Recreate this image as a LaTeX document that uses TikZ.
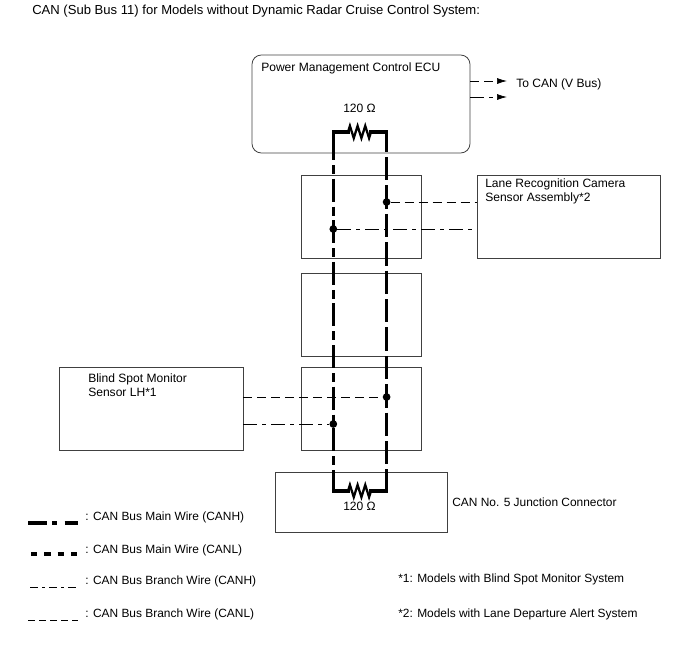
\documentclass[tikz,border=0pt]{standalone}
\usepackage{fontspec}
\setmainfont{Liberation Sans}
\usetikzlibrary{decorations.pathmorphing,arrows.meta}
\tikzset{
    x=0.75pt, y=-0.75pt,
    box/.style={draw=black!75, line width=0.6pt, inner sep=0pt, outer sep=0pt},
    lbl/.style={font=\fontsize{9.05pt}{10.5pt}\selectfont, inner sep=0pt, anchor=west, align=left},
    lblb/.style={lbl, font=\fontsize{8.95pt}{10.5pt}\selectfont},
    canh/.style={line width=2.3pt, dash pattern=on 17.25pt off 3.75pt on 6.75pt off 3.45pt},
    canl/.style={line width=2.3pt, dash pattern=on 17.6pt off 3.7pt, dash phase=2.55pt},
    branchh/.style={line width=0.55pt, dash pattern=on 10.5pt off 3.75pt on 3pt off 3.75pt},
    branchl/.style={line width=0.55pt, dash pattern=on 6.75pt off 3.75pt},
    legh/.style={line width=2.3pt, dash pattern=on 14.25pt off 3.75pt on 3.4pt off 6pt},
    legl/.style={line width=2.3pt, dash pattern=on 4.75pt off 5.25pt},
    legbh/.style={line width=0.55pt, dash pattern=on 6pt off 3pt on 2.25pt off 3pt},
    legbl/.style={line width=0.55pt, dash pattern=on 5.25pt off 3pt},
    res/.style={line width=1.7pt, decorate, decoration={zigzag, segment length=5.75pt, amplitude=4.6pt}},
    dot/.style={circle, fill=black, inner sep=0pt, minimum size=5.8pt},
}
\begin{document}
\begin{tikzpicture}
    \useasboundingbox (0,0) rectangle (688,658);

    \node[box, rounded corners=7pt, minimum width=163.5pt, minimum height=73.5pt] (pm) at (361,104) {};
    \node[box, minimum width=90pt, minimum height=62.25pt] (b1) at (361,216.5) {};
    \node[box, minimum width=90pt, minimum height=62.25pt] (b2) at (361,314.5) {};
    \node[box, minimum width=90pt, minimum height=62.25pt] (b3) at (361,409) {};
    \node[box, minimum width=129pt, minimum height=45pt] (jc) at (361,502) {};
    \node[box, minimum width=137.25pt, minimum height=62.25pt] (lane) at (568.5,216.5) {};
    \node[box, minimum width=138pt, minimum height=62.25pt] (blind) at (151,408.5) {};

    \node[lbl, font=\fontsize{9.8pt}{11pt}\selectfont] (title) at (32,11) {CAN (Sub Bus 11) for Models without Dynamic Radar Cruise Control System:};
    \node[lbl] (pmtxt) at (261,68) {Power Management Control ECU};
    \node[lbl] (vbus) at (516,84) {To CAN (V Bus)};
    \node[lbl] (lanetxt) at (485,191) {Lane Recognition Camera\\Sensor Assembly*2};
    \node[lbl] (blindtxt) at (88,385) {Blind Spot Monitor\\Sensor LH*1};
    \node[lblb] (jctxt) at (452,502) {CAN No. 5 Junction Connector};
    \node[lbl] (rtop) at (343,108) {120 Ω};
    \node[lbl] (rbot) at (343,506) {120 Ω};

    % to V bus
    \coordinate (vl) at (507,81);
    \coordinate (vh) at (507,97);
    \draw[branchl, -{Latex[length=7.5pt,width=4.5pt]}] (pm.east |- vl) -- (vl);
    \draw[branchh, -{Latex[length=7.5pt,width=4.5pt]}] (pm.east |- vh) -- (vh);

    % main wires
    \coordinate (h1) at (333.3,132);
    \coordinate (l1) at (386.6,132);
    \coordinate (h2) at (333.3,491);
    \coordinate (l2) at (386.6,491);
    \coordinate (h1b) at (333.3,137);
    \coordinate (r1a) at (348,132);
    \coordinate (r1b) at (371,132);
    \coordinate (r2a) at (348,491);
    \coordinate (r2b) at (371,491);
    \draw[canh] (h1b) -- (h2);
    \draw[canl] (l1) -- (l2);
    \draw[line width=2.3pt, line cap=rect] (h1b) -- (h1) -- (r1a) (r1b) -- (l1);
    \draw[line width=2.3pt, line cap=rect] (h2) -- (r2a) (r2b) -- (l2);
    \draw[res] (r1a) -- (r1b);
    \draw[res] (r2a) -- (r2b);

    % branches
    \node[dot] (d1) at (386.6,202) {};
    \node[dot] (d2) at (333.3,229) {};
    \node[dot] (d3) at (386.6,397) {};
    \node[dot] (d4) at (333.3,424) {};
    \draw[branchl] (d1) -- (d1 -| lane.west);
    \draw[branchh] (d2) -- (d2 -| lane.west);
    \draw[branchl] (d3 -| blind.east) -- (d3);
    \draw[branchh] (d4 -| blind.east) -- (d4);

    % legend
    \foreach \nm/\yy/\ty/\xx/\sty/\txt in {a/523/517/28/legh/Main Wire (CANH), b/554/550/31/legl/Main Wire (CANL), c/587/581/30/legbh/Branch Wire (CANH), d/620/614/28/legbl/Branch Wire (CANL)} {
        \coordinate (\nm1) at (\xx,\yy);
        \coordinate (\nm2) at (78,\yy);
        \draw[\sty] (\nm1) -- (\nm2);
        \node[lblb] (\nm) at (85,\ty) {: CAN Bus \txt};
    }
    \node[lblb] (n1) at (398,579) {*1: Models with Blind Spot Monitor System};
    \node[lblb] (n2) at (398,614) {*2: Models with Lane Departure Alert System};
\end{tikzpicture}
\end{document}
